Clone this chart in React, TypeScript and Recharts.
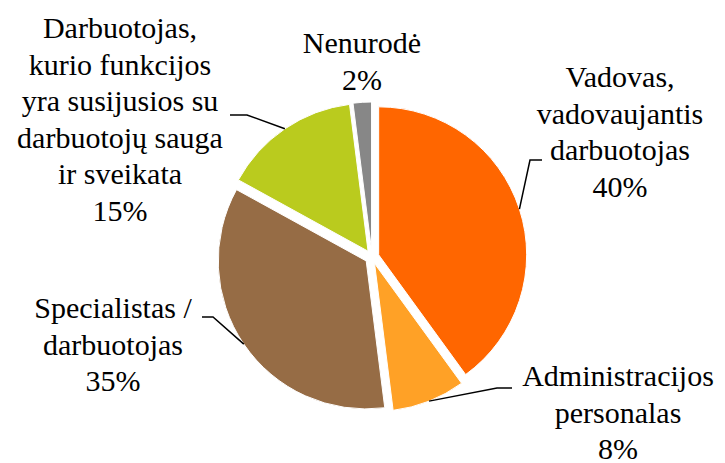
import React from 'react';
import { PieChart, Pie, Cell, Sector } from 'recharts';

const categories = [
  'Vadovas, vadovaujantis darbuotojas',
  'Administracijos personalas',
  'Specialistas / darbuotojas',
  'Darbuotojas, kurio funkcijos yra susijusios su darbuotojų sauga ir sveikata',
  'Nenurodė',
];
const values = [40, 8, 35, 15, 2];
const labelLines = [
  ['Vadovas,', 'vadovaujantis', 'darbuotojas'],
  ['Administracijos', 'personalas'],
  ['Specialistas /', 'darbuotojas'],
  ['Darbuotojas,', 'kurio funkcijos', 'yra susijusios su', 'darbuotojų sauga', 'ir sveikata'],
  ['Nenurodė'],
];
const colors = ['#FF6600', '#FFA126', '#966C45', '#BACB1E', '#878787'];

// layout (label text placement and leader elbows), not data
const labelLayout = [
  { x: 620, y: 87, elbow: [530, 160], end: [542, 160] },
  { x: 618, y: 386, elbow: [497, 388], end: [512, 388] },
  { x: 113, y: 318, elbow: [213, 317], end: [202, 317] },
  { x: 120, y: 38, elbow: [247, 115], end: [230, 115] },
  { x: 362, y: 53, elbow: null, end: null },
];

const data = categories.map((name, i) => ({ name, value: values[i] }));

const RAD = Math.PI / 180;
const EXPLODE = 7;
const LINE_H = 36.6;

const explodedShape = (props: any) => {
  const { cx, cy, midAngle } = props;
  const dx = EXPLODE * Math.cos(-midAngle * RAD);
  const dy = EXPLODE * Math.sin(-midAngle * RAD);
  return <Sector {...props} cx={cx + dx} cy={cy + dy} />;
};

const renderLabel = (props: any) => {
  const { cx, cy, midAngle, outerRadius, index, percent } = props;
  const L = labelLayout[index];
  const lines = [...labelLines[index], `${Math.round(percent * 100)}%`];
  const r = outerRadius + EXPLODE;
  const sx = cx + r * Math.cos(-midAngle * RAD);
  const sy = cy + r * Math.sin(-midAngle * RAD);
  return (
    <g>
      {L.elbow && (
        <polyline
          points={`${sx},${sy} ${L.elbow[0]},${L.elbow[1]} ${L.end[0]},${L.end[1]}`}
          fill="none"
          stroke="#000"
          strokeWidth={1.5}
        />
      )}
      {lines.map((t, i) => (
        <text
          key={i}
          x={L.x}
          y={L.y + i * LINE_H}
          textAnchor="middle"
          fontFamily="Times New Roman"
          fontSize={30}
        >
          {t}
        </text>
      ))}
    </g>
  );
};

export default function App() {
  return (
    <div style={{ position: 'absolute', left: 0, top: 0, width: 725, height: 463, background: '#fff' }}>
      <PieChart width={725} height={463} margin={{ top: 0, right: 0, bottom: 0, left: 0 }}>
        <Pie
          data={data}
          dataKey="value"
          nameKey="name"
          cx={372}
          cy={257}
          outerRadius={148}
          startAngle={90}
          endAngle={-270}
          stroke="#fff"
          strokeWidth={1}
          isAnimationActive={false}
          shape={explodedShape}
          label={renderLabel}
          labelLine={false}
        >
          {data.map((d, i) => (
            <Cell key={d.name} fill={colors[i]} />
          ))}
        </Pie>
      </PieChart>
    </div>
  );
}
